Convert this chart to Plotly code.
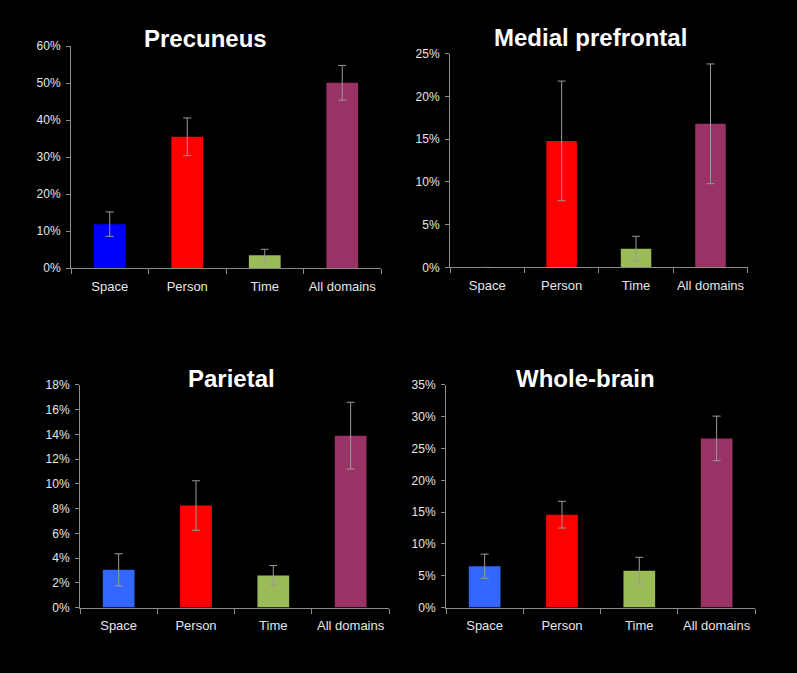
import plotly.graph_objects as go

categories = ["Space", "Person", "Time", "All domains"]

titles = ["Precuneus", "Medial prefrontal", "Parietal", "Whole-brain"]

precuneus_vals = [11.9, 35.5, 3.5, 50.1]
precuneus_err = [3.3, 5.1, 1.6, 4.7]

medial_prefrontal_vals = [0, 14.8, 2.2, 16.8]
medial_prefrontal_err = [None, 7.0, 1.45, 7.0]

parietal_vals = [3.05, 8.25, 2.6, 13.9]
parietal_err = [1.3, 2.0, 0.8, 2.7]

whole_brain_vals = [6.5, 14.6, 5.8, 26.6]
whole_brain_err = [1.9, 2.1, 2.1, 3.5]

y_max = [60, 25, 18, 35]
y_step = [10, 5, 2, 5]

colors_precuneus = ["#0000FF", "#FF0000", "#9BBB59", "#993366"]
colors_other = ["#3366FF", "#FF0000", "#9BBB59", "#993366"]

W, H = 797, 673
# pixel boxes: (x0, x1, ytop, ybottom)
boxes = [
    (71, 381, 40, 266.7),
    (450, 747.7, 47.7, 266),
    (80, 389.3, 386, 613.3),
    (446, 755.3, 386, 613.3),
]
title_pos = [(205.5, 32), (590.5, 31), (231.3, 379), (585, 379)]

series = [
    (precuneus_vals, precuneus_err, colors_precuneus),
    (medial_prefrontal_vals, medial_prefrontal_err, colors_other),
    (parietal_vals, parietal_err, colors_other),
    (whole_brain_vals, whole_brain_err, colors_other),
]

fig = go.Figure()
layout = dict(
    width=W, height=H,
    margin=dict(l=0, r=0, t=0, b=0),
    paper_bgcolor="black", plot_bgcolor="black",
    showlegend=False,
    font=dict(family="Liberation Sans, Arial", color="#DDDDDD"),
    annotations=[],
)

axis_color = "#8C8C8C"
for i, ((vals, errs, cols), (x0, x1, yt, yb)) in enumerate(zip(series, boxes)):
    n = i + 1
    xa = "x" if n == 1 else f"x{n}"
    ya = "y" if n == 1 else f"y{n}"
    fig.add_trace(go.Bar(
        x=categories, y=vals, xaxis=xa, yaxis=ya,
        marker=dict(color=cols, line=dict(width=0)),
        width=0.41,
        error_y=dict(type="data", array=errs, visible=True,
                     color="#9A9A9A", thickness=1, width=4),
    ))
    layout[f"xaxis{n if n > 1 else ''}"] = dict(
        domain=[x0 / W, x1 / W], anchor=ya,
        range=[-0.5, 3.5], type="category",
        showline=True, linecolor=axis_color, linewidth=1,
        ticks="outside", tickson="boundaries", ticklen=5, tickcolor=axis_color,
        showgrid=False, zeroline=False, tickangle=0,
        tickfont=dict(size=13, color="#E6E6E6"),
        ticklabelstandoff=6,
        fixedrange=True,
    )
    layout[f"yaxis{n if n > 1 else ''}"] = dict(
        domain=[1 - yb / H, 1 - yt / H], anchor=xa,
        range=[0, y_max[i]], tickmode="linear", tick0=0, dtick=y_step[i],
        ticksuffix="%",
        showline=True, linecolor=axis_color, linewidth=1,
        ticks="outside", ticklen=4, tickcolor=axis_color,
        showgrid=False, zeroline=False,
        tickfont=dict(size=12, color="#E6E6E6"),
        ticklabelstandoff=3,
        fixedrange=True,
    )
    tx, ty = title_pos[i]
    layout["annotations"].append(dict(
        text=f"<b>{titles[i]}</b>", x=tx / W, y=1 - ty / H,
        xref="paper", yref="paper", xanchor="center", yanchor="middle",
        showarrow=False, font=dict(size=24, color="white",
                                   family="Liberation Sans, Arial"),
    ))

fig.update_layout(**layout)
fig.write_html(
    "out.html",
    config={"displayModeBar": False},
    post_script="document.body.style.margin='0';document.body.style.background='black';",
)
